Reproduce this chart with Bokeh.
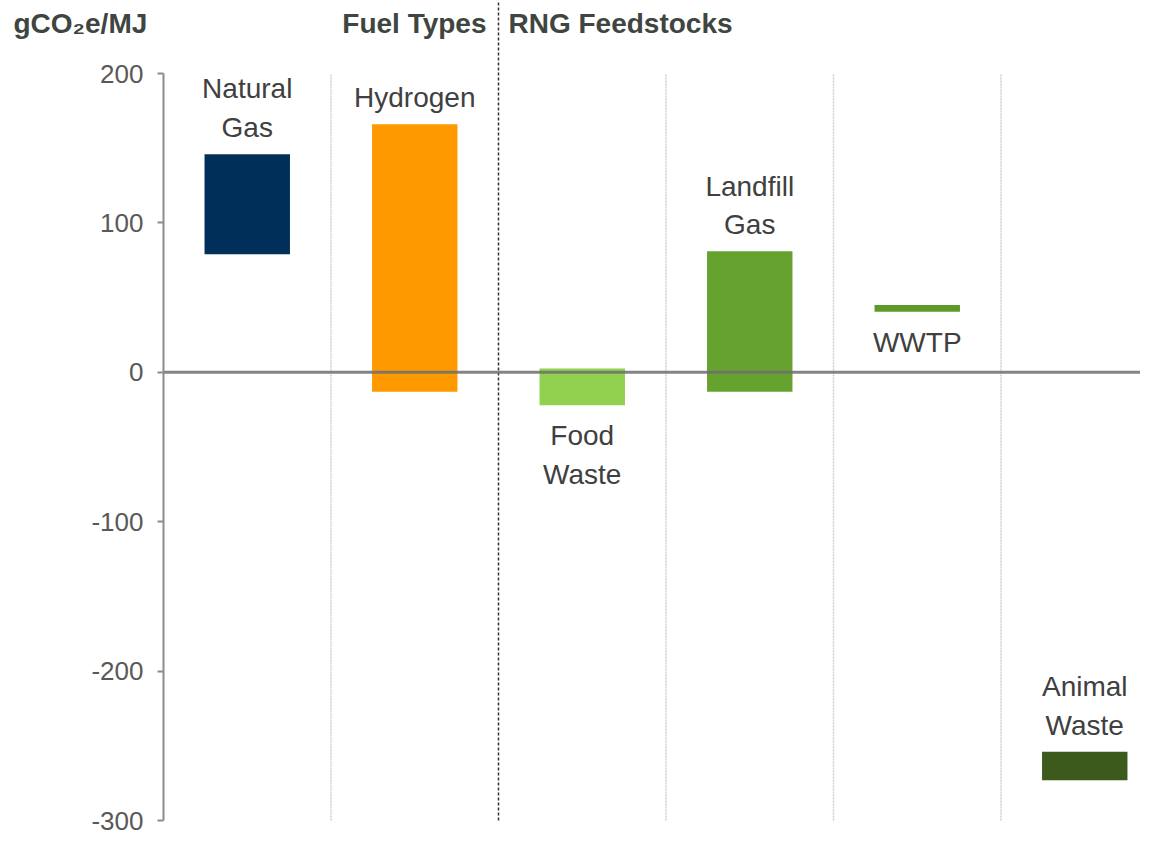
from bokeh.plotting import figure
from bokeh.models import Range1d, FixedTicker, Label, ColumnDataSource, CustomJSTickFormatter
from bokeh.core.properties import value
from bokeh.embed import file_html
from bokeh.resources import INLINE

# ---- data ----
categories = ["Natural\nGas", "Hydrogen", "Food\nWaste", "Landfill\nGas", "WWTP", "Animal\nWaste"]
low_values = [79, -13, -22, -13, 40.5, -273]
high_values = [146, 166, 2.5, 81, 45, -254]
bar_colors = ["#002F5A", "#FF9900", "#92D050", "#66A22E", "#5C9B2A", "#3B5A1B"]
label_side = ["above", "above", "below", "above", "below", "above"]
group_names = ["Fuel Types", "RNG Feedstocks"]
group_sizes = [2, 4]
y_ticks = [-300, -200, -100, 0, 100, 200]
unit_label = "gCO\u2082e/MJ"

FONT = "Liberation Sans"
xs = list(range(len(categories)))

# layout (pixels)
W, H = 1140, 834
AXIS_PX = 163          # x pixel of the value axis
COL_PX = 167.5         # width of one category column
TOP_PX, BOT_PX = 73, 820   # pixel rows of the highest / lowest tick
ppu = (BOT_PX - TOP_PX) / (max(y_ticks) - min(y_ticks))
x_start = -0.5 - AXIS_PX / COL_PX
x_end = x_start + W / COL_PX
y_end = max(y_ticks) + TOP_PX / ppu
y_start = min(y_ticks) - (H - BOT_PX) / ppu

p = figure(width=W, height=H,
           x_range=Range1d(x_start, x_end), y_range=Range1d(y_start, y_end),
           output_backend="svg", toolbar_location=None,
           min_border_left=0, min_border_right=0, min_border_top=0, min_border_bottom=0)
p.outline_line_color = None
p.grid.visible = False
p.xaxis.visible = False

# y axis (drawn at the left edge of the first category column)
ax = p.yaxis[0]
ax.fixed_location = -0.5
ax.ticker = FixedTicker(ticks=y_ticks)
ax.formatter = CustomJSTickFormatter(code="return tick.toFixed(0)")
ax.bounds = (min(y_ticks), max(y_ticks))
ax.minor_tick_line_color = None
ax.major_tick_in = 0
ax.major_tick_out = 6
ax.axis_line_color = "#8C8C8C"
ax.axis_line_width = 2
ax.major_tick_line_color = "#8C8C8C"
ax.major_tick_line_width = 2
ax.major_label_text_font = FONT
ax.major_label_text_font_size = "26px"
ax.major_label_text_color = "#595959"
ax.major_label_standoff = 14

# vertical separators between categories
group_boundary = group_sizes[0] - 0.5
grid_x = [i + 0.5 for i in range(len(categories) - 1) if i + 0.5 != group_boundary]
p.segment(x0=grid_x, x1=grid_x, y0=[min(y_ticks)] * len(grid_x), y1=[max(y_ticks)] * len(grid_x),
          line_color="#CFCFCF", line_width=1.5, line_dash="2 1")
p.segment(x0=[group_boundary], x1=[group_boundary], y0=[min(y_ticks)], y1=[y_end],
          line_color="#333333", line_width=1.5, line_dash="3 2")

# floating bars
src = ColumnDataSource(dict(x=xs, top=high_values, bottom=low_values, color=bar_colors))
p.vbar(x="x", width=0.51, top="top", bottom="bottom", source=src,
       fill_color="color", line_color=None)

# zero line (from the axis to the right edge)
p.segment(x0=[-0.5], x1=[x_end], y0=[0], y1=[0],
          line_color="#6E6E6E", line_width=3, line_alpha=0.85)

# category labels
above = [i for i, s in enumerate(label_side) if s == "above"]
below = [i for i, s in enumerate(label_side) if s == "below"]
src_a = ColumnDataSource(dict(x=[xs[i] for i in above], y=[high_values[i] for i in above],
                              t=[categories[i] for i in above]))
src_b = ColumnDataSource(dict(x=[xs[i] for i in below], y=[low_values[i] for i in below],
                              t=[categories[i] for i in below]))
common = dict(text="t", text_font=value(FONT), text_font_size="28px", text_color="#404040",
              text_align="center", text_line_height=1.25)
p.text(x="x", y="y", source=src_a, text_baseline="bottom", y_offset=-11, **common)
p.text(x="x", y="y", source=src_b, text_baseline="top", y_offset=15, **common)

# header texts
hdr = dict(text_font=FONT, text_font_size="28px", text_font_style="bold",
           text_color="#3F4540", text_baseline="alphabetic")
p.add_layout(Label(x=-0.5, y=y_end, x_offset=-150, y_offset=-23,
                   text=unit_label, text_align="left", **hdr))
p.add_layout(Label(x=group_boundary, y=y_end, x_offset=-12, y_offset=-23,
                   text=group_names[0], text_align="right", **hdr))
p.add_layout(Label(x=group_boundary, y=y_end, x_offset=10, y_offset=-23,
                   text=group_names[1], text_align="left", **hdr))

open("out.html", "w").write(file_html(p, INLINE))
